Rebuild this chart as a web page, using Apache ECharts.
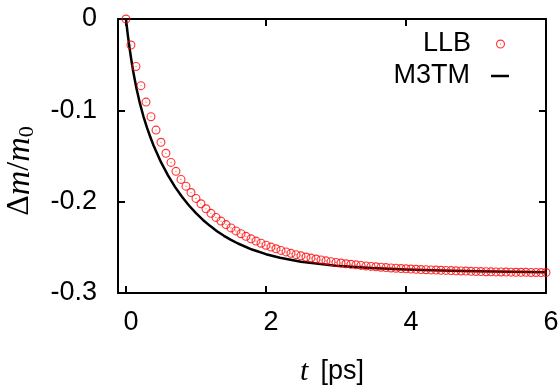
<!DOCTYPE html>
<html>
<head>
<meta charset="utf-8">
<script src="https://cdn.jsdelivr.net/npm/echarts@6/dist/echarts.min.js"></script>
<style>html,body{margin:0;padding:0;background:#fff}#c{width:560px;height:392px}</style>
</head>
<body>
<div id="c"></div>
<script>
// LLB data (t in ps, Δm/m0)
var llbT = [0, 0.071, 0.143, 0.214, 0.286, 0.357, 0.429, 0.5, 0.571, 0.643, 0.714, 0.786, 0.857, 0.929,
  1.0, 1.071, 1.143, 1.214, 1.286, 1.357, 1.429, 1.5, 1.571, 1.643, 1.714, 1.786, 1.857, 1.929,
  2.0, 2.071, 2.143, 2.214, 2.286, 2.357, 2.429, 2.5, 2.571, 2.643, 2.714, 2.786, 2.857, 2.929,
  3.0, 3.071, 3.143, 3.214, 3.286, 3.357, 3.429, 3.5, 3.571, 3.643, 3.714, 3.786, 3.857, 3.929,
  4.0, 4.071, 4.143, 4.214, 4.286, 4.357, 4.429, 4.5, 4.571, 4.643, 4.714, 4.786, 4.857, 4.929,
  5.0, 5.071, 5.143, 5.214, 5.286, 5.357, 5.429, 5.5, 5.571, 5.643, 5.714, 5.786, 5.857, 5.929, 6.0];
var llbM = [0, -0.0285, -0.052, -0.073, -0.091, -0.107, -0.1216, -0.135, -0.147, -0.157, -0.1668, -0.1756, -0.183, -0.190,
  -0.1964, -0.2023, -0.2078, -0.2128, -0.2172, -0.2213, -0.2251, -0.2287, -0.2320, -0.2351, -0.2380, -0.2407, -0.2432, -0.2455,
  -0.2477, -0.2497, -0.2516, -0.2534, -0.2550, -0.2566, -0.2580, -0.2593, -0.2606, -0.2618, -0.2628, -0.2638, -0.2648, -0.2657,
  -0.2665, -0.2672, -0.2680, -0.2686, -0.2692, -0.2698, -0.2704, -0.2709, -0.2713, -0.2718, -0.2722, -0.2726, -0.2729, -0.2732,
  -0.2735, -0.2738, -0.2740, -0.2743, -0.2745, -0.2747, -0.2749, -0.2751, -0.2753, -0.2755, -0.2757, -0.2759, -0.2760, -0.2762,
  -0.2764, -0.2765, -0.2767, -0.2768, -0.2769, -0.2770, -0.2771, -0.2772, -0.2773, -0.2773, -0.2774, -0.2775, -0.2775, -0.2776, -0.2776];
// M3TM data
var m3tmT = [0, 0.025, 0.05, 0.075, 0.1, 0.125, 0.15, 0.2, 0.25, 0.3, 0.35, 0.4, 0.5, 0.6, 0.7, 0.8, 0.9, 1.0, 1.1, 1.2, 1.3, 1.4, 1.5, 1.6, 1.8, 2.0, 2.2, 2.5, 3.0, 3.5, 4.0, 4.5, 5.0, 5.5, 6.0];
var m3tmM = [0, -0.0169, -0.0314, -0.0441, -0.0560, -0.0663, -0.0761, -0.0927, -0.1068, -0.1190, -0.1297, -0.1397, -0.1568, -0.1712, -0.1838, -0.1946, -0.2042, -0.2126,
  -0.2200, -0.2265, -0.2323, -0.2374, -0.2418, -0.2458, -0.2524, -0.2575, -0.2614, -0.2657, -0.2701, -0.2727, -0.2744, -0.2755, -0.2762, -0.2767, -0.2772];
// Ticks
var xTicks = [0, 2, 4, 6];
var yTicks = [0, -0.1, -0.2, -0.3];
var seriesNames = ['LLB', 'M3TM'];

var SANS = 'Liberation Sans';
var SERIF = 'Liberation Serif';
var FS = 27;
var ringPath = 'path://M10,0 A10,10 0 1,1 10,20 A10,10 0 1,1 10,0 Z M10,2.5 A7.5,7.5 0 1,0 10,17.5 A7.5,7.5 0 1,0 10,2.5 Z M10,8.8 A1.2,1.2 0 1,1 10,11.2 A1.2,1.2 0 1,1 10,8.8 Z';

function zip(a, b) { return a.map(function (v, i) { return [v, b[i]]; }); }

function axisLine() { return { onZero: false, lineStyle: { color: '#000', width: 2 } }; }
function ticks(vals) { return { customValues: vals, inside: true, length: 7, lineStyle: { color: '#000', width: 2 } }; }

var chart = echarts.init(document.getElementById('c'), null, { renderer: 'canvas' });
chart.setOption({
  animation: false,
  backgroundColor: '#fff',
  grid: { left: 118, right: 14, top: 19, bottom: 99, containLabel: false, outerBoundsMode: 'none' },
  xAxis: [{
    type: 'value', min: -0.114, max: 6, position: 'bottom',
    axisLine: axisLine(), axisTick: ticks(xTicks),
    axisLabel: { customValues: xTicks, color: '#000', fontFamily: SANS, fontSize: FS, margin: 16, padding: [0, 0, 0, 10] },
    splitLine: { show: false },
    name: '{it|t}{n|[ps]}', nameLocation: 'middle', nameGap: 64,
    nameTextStyle: { color: '#000', rich: {
      it: { fontFamily: SERIF, fontStyle: 'italic', fontSize: 30, color: '#000' },
      n: { fontFamily: SANS, fontSize: FS, color: '#000', padding: [0, 0, 0, 12] }
    } }
  }, {
    type: 'value', min: -0.114, max: 6, position: 'top',
    axisLine: axisLine(), axisTick: ticks(xTicks),
    axisLabel: { show: false }, splitLine: { show: false }
  }],
  yAxis: [{
    type: 'value', min: -0.3, max: 0, position: 'left',
    axisLine: axisLine(), axisTick: ticks(yTicks),
    axisLabel: { customValues: yTicks, color: '#000', fontFamily: SANS, fontSize: FS, margin: 21 },
    splitLine: { show: false },
    name: '{d|Δ}{m|m}{s|/}{m|m}{sub|0}', nameLocation: 'middle', nameGap: 80, nameRotate: 90,
    nameTextStyle: { color: '#000', padding: [0, 30, 0, 0], rich: {
      d: { fontFamily: SERIF, fontSize: 32, color: '#000', lineHeight: 36 },
      m: { fontFamily: SERIF, fontStyle: 'italic', fontSize: 34, color: '#000', lineHeight: 36 },
      s: { fontFamily: SERIF, fontSize: 32, color: '#000', lineHeight: 36 },
      sub: { fontFamily: SERIF, fontSize: 22, color: '#000', lineHeight: 19, verticalAlign: 'bottom' }
    } }
  }, {
    type: 'value', min: -0.3, max: 0, position: 'right',
    axisLine: axisLine(), axisTick: ticks(yTicks),
    axisLabel: { show: false }, splitLine: { show: false }
  }],
  legend: [{
    data: [seriesNames[0]], orient: 'vertical', right: 55, top: 24, padding: 0,
    itemWidth: 9, itemHeight: 9, align: 'right', selectedMode: false,
    textStyle: { color: '#000', fontFamily: SANS, fontSize: FS, lineHeight: 30, padding: [0, 20, 10, 0] }
  }, {
    data: [{ name: seriesNames[1], icon: 'rect' }], orient: 'vertical', right: 51, top: 56, padding: 0,
    itemWidth: 18, itemHeight: 2.5, align: 'right', selectedMode: false,
    textStyle: { color: '#000', fontFamily: SANS, fontSize: FS, lineHeight: 30, padding: [0, 16, 10, 0] }
  }],
  series: [{
    name: seriesNames[1], type: 'line', data: zip(m3tmT, m3tmM),
    showSymbol: false, symbol: 'none', smooth: false,
    lineStyle: { color: '#000', width: 2.5, join: 'round' }, itemStyle: { color: '#000' }, z: 2
  }, {
    name: seriesNames[0], type: 'scatter', data: zip(llbT, llbM),
    symbol: ringPath, symbolSize: 9, clip: false,
    itemStyle: { color: '#ff0000' }, z: 3
  }]
});
</script>
</body>
</html>
